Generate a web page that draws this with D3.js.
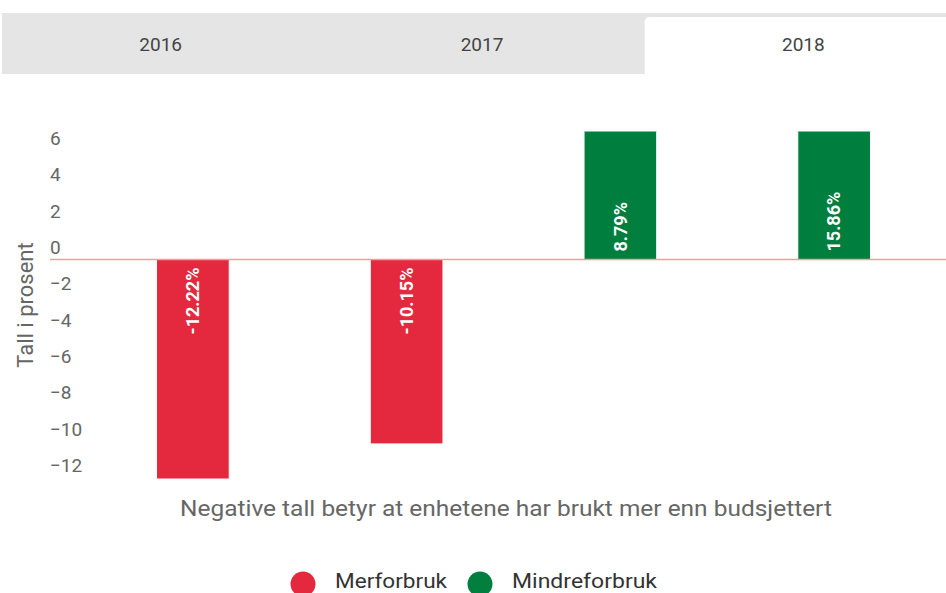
<!DOCTYPE html>
<html>
<head>
<meta charset="utf-8">
<script src="https://cdn.jsdelivr.net/npm/d3@7"></script>
<style>
  html, body { margin: 0; padding: 0; background: #fff; }
  svg { display: block; font-family: Roboto, "Noto Sans", sans-serif; }
</style>
</head>
<body>
<svg id="chart" width="946" height="593"></svg>
<script>
// ---- data ----
const tabs = ["2016", "2017", "2018"];
const selectedTab = "2018";
const categories = ["A", "B", "C", "D"];
const values = [-12.22, -10.15, 8.79, 15.86];
const seriesOfBar = ["Merforbruk", "Merforbruk", "Mindreforbruk", "Mindreforbruk"];
const seriesNames = ["Merforbruk", "Mindreforbruk"];
const seriesColors = ["#e4283e", "#007e3e"];
const yTicks = [-12, -10, -8, -6, -4, -2, 0, 2, 4, 6];
const yTitle = "Tall i prosent";
const xTitle = "Negative tall betyr at enhetene har brukt mer enn budsjettert";

const svg = d3.select("#chart");
const W = 946, H = 593;

// ---- tabs ----
const tabX = d3.scaleBand().domain(tabs).range([2, 966]);
svg.append("rect").attr("x", 2).attr("y", 13).attr("width", W - 2).attr("height", 61).attr("fill", "#e5e5e5");
const selX = tabX(selectedTab);
svg.append("path")
  .attr("d", `M${selX},74 V22 Q${selX},17 ${selX + 5},17 H${W + 10} V74 Z`)
  .attr("fill", "#ffffff");
svg.selectAll("text.tab").data(tabs).join("text")
  .attr("class", "tab")
  .attr("x", d => tabX(d) + tabX.bandwidth() / 2 - 2)
  .attr("y", 44)
  .attr("dy", "0.35em")
  .attr("text-anchor", "middle")
  .attr("font-size", 19)
  .attr("font-weight", 400)
  .attr("fill", "#444")
  .text(d => d);

// ---- scales ----
const zeroY = 259.5, pxPerUnit = 18.17;
const yMin = -12.05, yMax = 7.05;
const y = d3.scaleLinear().domain([yMin, yMax])
  .range([zeroY - yMin * pxPerUnit, zeroY - yMax * pxPerUnit]);
const x = d3.scaleBand().domain(categories).range([86, 941])
  .paddingInner(0.66).paddingOuter(0.33);
const color = d3.scaleOrdinal().domain(seriesNames).range(seriesColors);

// clip for plot area
svg.append("clipPath").attr("id", "plotclip")
  .append("rect").attr("x", 50).attr("y", y(yMax)).attr("width", W - 50).attr("height", y(yMin) - y(yMax));

// ---- y axis labels ----
const yAxis = d3.axisLeft(y).tickValues(yTicks).tickSize(0).tickFormat(d3.format("d"));
const yg = svg.append("g").attr("transform", "translate(50,0)").call(yAxis);
yg.select(".domain").remove();
yg.selectAll("text")
  .attr("x", 0).attr("dy", -6)
  .attr("text-anchor", "start")
  .attr("font-family", "Roboto, sans-serif")
  .attr("font-size", 19)
  .attr("fill", "#666");

// y title
svg.append("text")
  .attr("transform", `translate(25,${305}) rotate(-90)`)
  .attr("text-anchor", "middle")
  .attr("dy", "0.35em")
  .attr("font-size", 22)
  .attr("fill", "#666")
  .text(yTitle);

// ---- bars ----
const plot = svg.append("g").attr("clip-path", "url(#plotclip)");
plot.selectAll("rect.bar").data(values).join("rect")
  .attr("class", "bar")
  .attr("x", (d, i) => x(categories[i]))
  .attr("width", x.bandwidth())
  .attr("y", d => Math.min(y(d), y(0)))
  .attr("height", d => Math.abs(y(d) - y(0)))
  .attr("fill", (d, i) => color(seriesOfBar[i]))
  .attr("stroke", "#ffffff")
  .attr("stroke-width", 1);

// zero line
svg.append("line")
  .attr("x1", 50).attr("x2", W)
  .attr("y1", y(0)).attr("y2", y(0))
  .attr("stroke", "#f59c9c").attr("stroke-width", 1.5);

// data labels
svg.selectAll("text.dl").data(values).join("text")
  .attr("class", "dl")
  .attr("transform", (d, i) => {
    const cx = x(categories[i]) + x.bandwidth() / 2;
    const yy = d < 0 ? y(0) + 8 : y(0) - 8;
    return `translate(${cx},${yy}) rotate(-90)`;
  })
  .attr("text-anchor", d => d < 0 ? "end" : "start")
  .attr("dy", "0.35em")
  .attr("font-size", 18)
  .attr("font-weight", 700)
  .attr("fill", "#ffffff")
  .text(d => d.toFixed(2) + "%");

// x title
svg.append("text")
  .attr("x", 506).attr("y", 508)
  .attr("dy", "0.35em")
  .attr("text-anchor", "middle")
  .attr("font-size", 22)
  .attr("textLength", 652)
  .attr("lengthAdjust", "spacingAndGlyphs")
  .attr("fill", "#666")
  .text(xTitle);

// ---- legend ----
const legendX = [303, 480];
const legendTextLen = [112, 145];
const lg = svg.selectAll("g.leg").data(seriesNames).join("g")
  .attr("class", "leg")
  .attr("transform", (d, i) => `translate(${legendX[i]},584)`);
lg.append("circle").attr("r", 12.5).attr("fill", d => color(d));
lg.append("text")
  .attr("x", 32).attr("y", -3).attr("dy", "0.35em")
  .attr("font-size", 20)
  .attr("font-weight", 400)
  .attr("textLength", (d, i) => legendTextLen[i])
  .attr("lengthAdjust", "spacingAndGlyphs")
  .attr("fill", "#333")
  .text(d => d);
</script>
</body>
</html>
